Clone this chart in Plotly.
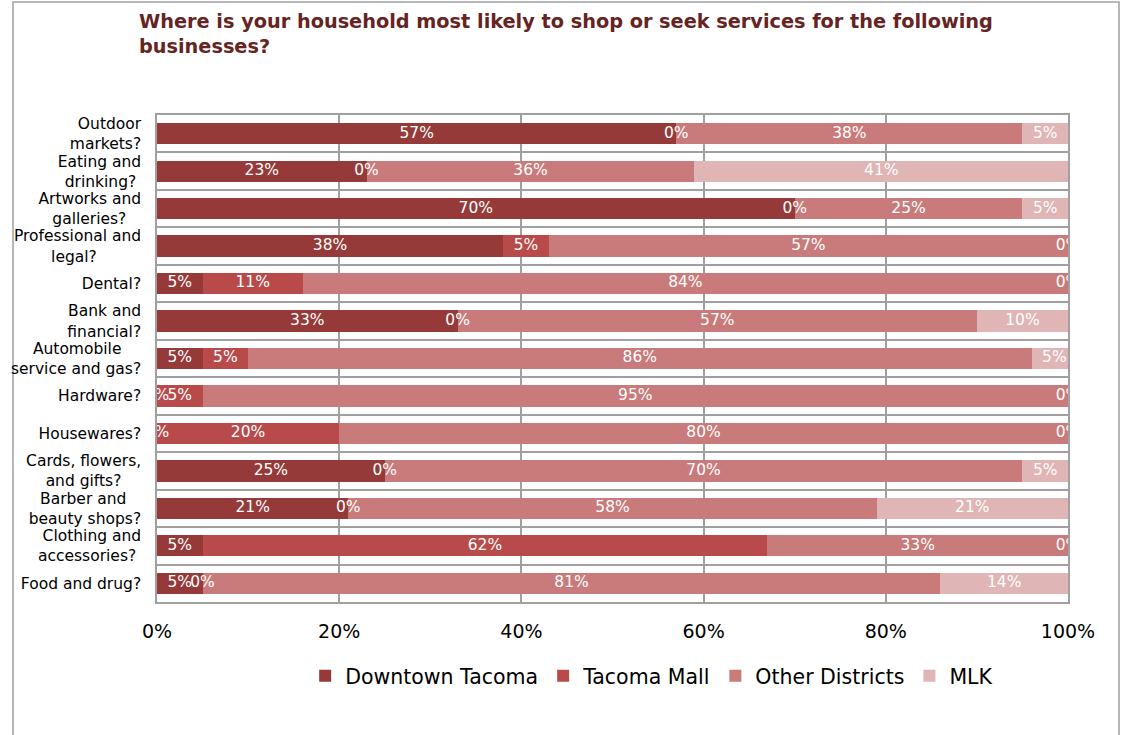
import plotly.graph_objects as go

categories = [
    "Outdoor markets?", "Eating and drinking?", "Artworks and galleries?",
    "Professional and legal?", "Dental?", "Bank and financial?",
    "Automobile service and gas?", "Hardware?", "Housewares?",
    "Cards, flowers, and gifts?", "Barber and beauty shops?",
    "Clothing and accessories?", "Food and drug?",
]
# tick labels as wrapped in the reference (nbsp padding centres the short line)
tick_labels = [
    "Outdoor<br>markets?",
    "Eating and<br>drinking?&nbsp;",
    "Artworks and<br>galleries?&nbsp;&nbsp;&nbsp;",
    "Professional and<br>legal?&nbsp;&nbsp;&nbsp;&nbsp;&nbsp;&nbsp;&nbsp;&nbsp;&nbsp;",
    "Dental?",
    "Bank and<br>financial?",
    "Automobile&nbsp;&nbsp;&nbsp;&nbsp;<br>service and gas?",
    "Hardware?",
    "Housewares?",
    "Cards, flowers,<br>and gifts?&nbsp;&nbsp;&nbsp;&nbsp;",
    "Barber and&nbsp;&nbsp;&nbsp;<br>beauty shops?",
    "Clothing and<br>accessories?&nbsp;",
    "Food and drug?",
]
downtown = [57, 23, 70, 38, 5, 33, 5, 0, 0, 25, 21, 5, 5]
tacoma_mall = [0, 0, 0, 5, 11, 0, 5, 5, 20, 0, 0, 62, 0]
other = [38, 36, 25, 57, 84, 57, 86, 95, 80, 70, 58, 33, 81]
mlk = [5, 41, 5, 0, 0, 10, 5, 0, 0, 5, 21, 0, 14]

series_names = ["Downtown Tacoma", "Tacoma Mall", "Other Districts", "MLK"]
series_values = [downtown, tacoma_mall, other, mlk]
colors = ["#953A39", "#B84B4A", "#C97B7B", "#DFB5B5"]
x_ticks = [0, 20, 40, 60, 80, 100]
x_ticklabels = ["0%", "20%", "40%", "60%", "80%", "100%"]

FONT = "DejaVu Sans"
fig = go.Figure()

for name, vals, col in zip(series_names, series_values, colors):
    fig.add_trace(go.Bar(
        y=categories, x=vals, name=name, orientation="h",
        marker=dict(color=col, line=dict(width=0)),
        hoverinfo="skip",
    ))

# data labels centred in each segment (including 0% segments)
lab_x, lab_y, lab_t = [], [], []
for i, cat in enumerate(categories):
    cum = 0
    for vals in series_values:
        v = vals[i]
        lab_x.append(cum + v / 2)
        lab_y.append(cat)
        lab_t.append(f"{v}%")
        cum += v
fig.add_trace(go.Scatter(
    x=lab_x, y=lab_y, text=lab_t, mode="text",
    textfont=dict(family=FONT, size=15.5, color="white"),
    showlegend=False, cliponaxis=True, hoverinfo="skip",
))

fig.update_layout(
    barmode="stack",
    bargap=0.43,
    width=1125, height=735,
    margin=dict(l=157, r=57, t=115, b=133),
    paper_bgcolor="white", plot_bgcolor="white",
    font=dict(family=FONT, color="black"),
    title=dict(
        text="Where is your household most likely to shop or seek services for the following<br>businesses?",
        font=dict(family=FONT, size=19.3, color="#652422", weight="bold"),
        x=139 / 1125, xref="container", xanchor="left",
        y=1 - 28 / 735, yref="container", yanchor="top",
    ),
    xaxis=dict(
        range=[0, 100], tickvals=x_ticks, ticktext=x_ticklabels,
        showgrid=True, gridcolor="#A0A0A0", gridwidth=1.5,
        zeroline=False, showline=True, linecolor="#A0A0A0", linewidth=1.5, mirror=True,
        tickfont=dict(family=FONT, size=19, color="black"),
        ticks="", ticklabelstandoff=11, fixedrange=True,
    ),
    yaxis=dict(
        categoryorder="array", categoryarray=categories,
        tickmode="array", tickvals=categories, ticktext=tick_labels,
        range=[len(categories) - 0.5, -0.5], autorange=False,
        tickson="boundaries", showgrid=True, gridcolor="#A0A0A0", gridwidth=1.5,
        showline=True, linecolor="#A0A0A0", linewidth=1.5, mirror=True,
        tickfont=dict(family=FONT, size=15.5, color="black"),
        ticks="", ticklabelstandoff=11, fixedrange=True,
    ),
    legend=dict(
        orientation="h", x=0.543, xanchor="center", y=-0.152, yanchor="middle",
        font=dict(family=FONT, size=20.5, color="black"),
        traceorder="normal", itemwidth=30,
    ),
    shapes=[dict(
        type="rect", xref="paper", yref="paper",
        x0=(13 - 157) / 911, x1=(1119 - 157) / 911,
        y0=(602 - 745) / 487, y1=(602 - 2) / 487,
        line=dict(color="#A0A0A0", width=1.5), fillcolor="rgba(0,0,0,0)", layer="below",
    )],
)

fig.write_html("out.html", config={"displayModeBar": False})
